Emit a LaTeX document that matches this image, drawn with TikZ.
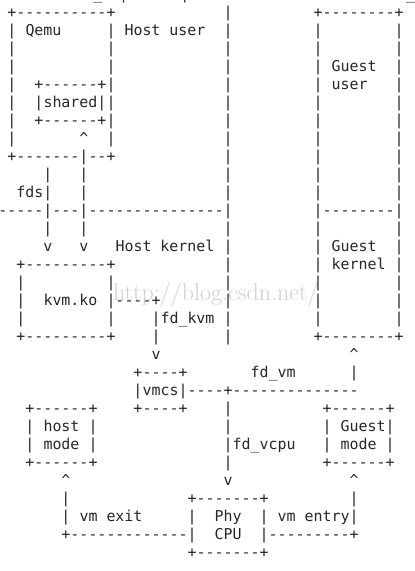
\documentclass[tikz,border=0pt]{standalone}
\usepackage{fontspec}
\setmonofont{DejaVu Sans Mono}
\definecolor{ink}{HTML}{262626}
\definecolor{wmgray}{HTML}{D0D0D0}

% one glyph in the cell at column #1, row #2
\newcommand{\cellch}[3]{\node[asc] (c#1x#2) at (#1,#2) {#3};}
% a run of dashes from column #1 to #2 in row #3
\newcommand{\hrun}[3]{\foreach \c in {#1,...,#2} {\cellch{\c}{#3}{-}}}
% a run of bars in column #1 from row #2 to #3
\newcommand{\vrun}[3]{\foreach \r in {#2,...,#3} {\cellch{#1}{\r}{|}}}
% a word starting at column #2 in row #3
\newcommand{\asword}[4]{\node[asc,anchor=base west] (#1) at ({#2-0.5},#3) {#4};}

\begin{document}
\begin{tikzpicture}[x={(9pt,0pt)},y={(0pt,-18pt)},
  asc/.style={font=\ttfamily\fontsize{14.95}{18}\selectfont,text=ink,
    inner sep=0pt,outer sep=0pt,anchor=base},
  wmark/.style={font=\rmfamily\fontsize{24}{24}\selectfont,text=wmgray,
    inner sep=0pt,anchor=base west}]
\useasboundingbox (-12pt,17.5pt) rectangle (403pt,-553.5pt);
% watermark
\node[wmark] (blog) at (11.2,15.7) {http://blog.csdn.net/};
% cut-off line at the top
\node[asc] (top1) at (9.55,-1) {\_};
\node[asc] (top2) at (12.4,-1) {|};
\node[asc] (top3) at (19.2,-1) {|};
\node[asc] (top4) at (44.3,-1) {\_};
% Qemu box
\cellch{0}{0}{+}\hrun{1}{10}{0}\cellch{11}{0}{+}
\vrun{0}{1}{7}\vrun{11}{1}{7}
\cellch{0}{8}{+}\hrun{1}{7}{8}\hrun{9}{10}{8}\cellch{11}{8}{+}
\asword{qemu}{2}{1}{Qemu}
% shared box
\cellch{3}{4}{+}\hrun{4}{9}{4}\cellch{10}{4}{+}
\cellch{3}{5}{|}\cellch{10}{5}{|}
\cellch{3}{6}{+}\hrun{4}{9}{6}\cellch{10}{6}{+}
\asword{shared}{4}{5}{shared}
% fds and the shared mapping
\cellch{8}{7}{\textasciicircum}\vrun{8}{8}{12}\cellch{8}{13}{v}
\vrun{4}{9}{12}\cellch{4}{13}{v}
\asword{fds}{1}{10}{fds}
% user / kernel split
\hrun{-1}{3}{11}\hrun{5}{7}{11}\hrun{9}{23}{11}
% host side
\vrun{24}{0}{18}
\asword{hostuser}{13}{1}{Host user}
\asword{hostkernel}{12}{13}{Host kernel}
% guest box
\cellch{34}{0}{+}\hrun{35}{42}{0}\cellch{43}{0}{+}
\vrun{34}{1}{17}\vrun{43}{1}{17}
\hrun{35}{42}{11}
\cellch{34}{18}{+}\hrun{35}{42}{18}\cellch{43}{18}{+}
\asword{guestuser}{36}{3}{Guest}
\asword{guestuser2}{36}{4}{user}
\asword{guestkernel}{36}{13}{Guest}
\asword{guestkernel2}{36}{14}{kernel}
% kvm.ko box
\cellch{1}{14}{+}\hrun{2}{10}{14}\cellch{11}{14}{+}
\vrun{1}{15}{17}\vrun{11}{15}{17}
\cellch{1}{18}{+}\hrun{2}{10}{18}\cellch{11}{18}{+}
\asword{kvmko}{4}{16}{kvm.ko}
% fd_kvm
\hrun{12}{15}{16}\cellch{16}{16}{+}\vrun{16}{17}{18}\cellch{16}{19}{v}
\asword{fdkvm}{17}{17}{fd\_kvm}
% vmcs box
\cellch{14}{20}{+}\hrun{15}{18}{20}\cellch{19}{20}{+}
\cellch{14}{21}{|}\cellch{19}{21}{|}
\cellch{14}{22}{+}\hrun{15}{18}{22}\cellch{19}{22}{+}
\asword{vmcs}{15}{21}{vmcs}
% fd_vm
\hrun{20}{23}{21}\cellch{24}{21}{+}\hrun{25}{38}{21}
\cellch{38}{19}{\textasciicircum}\cellch{38}{20}{|}
\asword{fdvm}{27}{20}{fd\_vm}
% fd_vcpu
\vrun{24}{22}{25}\cellch{24}{26}{v}
\asword{fdvcpu}{25}{24}{fd\_vcpu}
% host mode box
\cellch{2}{22}{+}\hrun{3}{8}{22}\cellch{9}{22}{+}
\vrun{2}{23}{24}\vrun{9}{23}{24}
\cellch{2}{25}{+}\hrun{3}{8}{25}\cellch{9}{25}{+}
\asword{hostmode}{4}{23}{host}
\asword{hostmode2}{4}{24}{mode}
% guest mode box
\cellch{35}{22}{+}\hrun{36}{41}{22}\cellch{42}{22}{+}
\vrun{35}{23}{24}\vrun{42}{23}{24}
\cellch{35}{25}{+}\hrun{36}{41}{25}\cellch{42}{25}{+}
\asword{guestmode}{37}{23}{Guest}
\asword{guestmode2}{37}{24}{mode}
% Phy CPU box
\cellch{20}{27}{+}\hrun{21}{27}{27}\cellch{28}{27}{+}
\vrun{20}{28}{29}\vrun{28}{28}{29}
\cellch{20}{30}{+}\hrun{21}{27}{30}\cellch{28}{30}{+}
\asword{phycpu}{23}{28}{Phy}
\asword{phycpu2}{23}{29}{CPU}
% vm exit
\cellch{6}{26}{\textasciicircum}\vrun{6}{27}{28}\cellch{6}{29}{+}\hrun{7}{19}{29}
\asword{vmexit}{8}{28}{vm exit}
% vm entry
\hrun{29}{37}{29}\cellch{38}{29}{+}\vrun{38}{27}{28}\cellch{38}{26}{\textasciicircum}
\asword{vmentry}{30}{28}{vm entry}
\end{tikzpicture}
\end{document}
